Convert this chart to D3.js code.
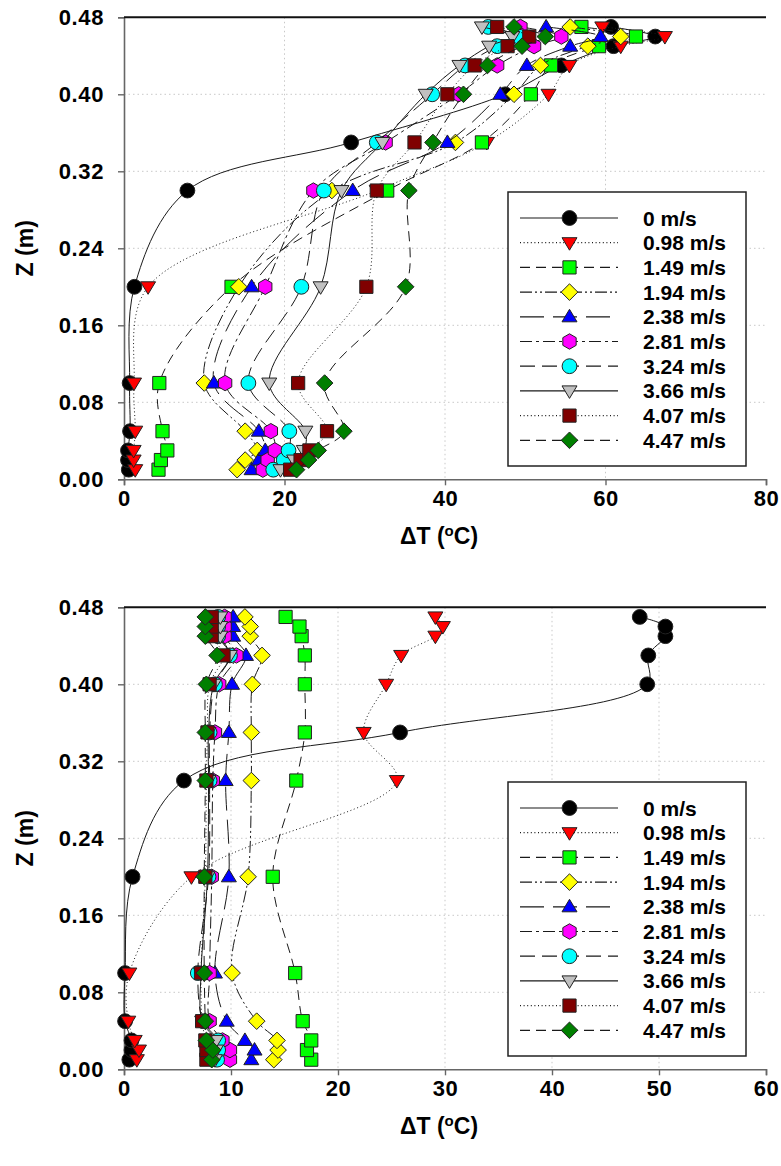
<!DOCTYPE html>
<html>
<head>
<meta charset="utf-8">
<script src="https://cdn.jsdelivr.net/npm/d3@7"></script>
<style>
  html, body { margin: 0; padding: 0; background: #fff; }
  svg { display: block; }
  text { font-family: "Liberation Sans", Arial, sans-serif; font-weight: bold; fill: #000; }
</style>
</head>
<body>
<svg id="chart" width="781" height="1166"></svg>
<script>
// ---------- DATA ----------
const zLevels = [0.01, 0.02, 0.03, 0.05, 0.10, 0.20, 0.30, 0.35, 0.40, 0.43, 0.45, 0.46, 0.47];
const seriesLabels = ["0 m/s", "0.98 m/s", "1.49 m/s", "1.94 m/s", "2.38 m/s", "2.81 m/s", "3.24 m/s", "3.66 m/s", "4.07 m/s", "4.47 m/s"];

// Top panel ΔT values (°C), one value per z level
const top_0    = [0.6, 0.5, 0.5, 0.75, 0.7, 1.3, 7.9, 28.3, 47.5, 54.5, 61.0, 66.2, 60.7];
const top_098  = [1.4, 1.2, 1.2, 1.4, 1.25, 3.0, 31.5, 45.2, 52.9, 55.5, 61.9, 67.4, 59.6];
const top_149  = [4.3, 4.6, 5.4, 4.8, 4.4, 13.4, 32.8, 44.6, 50.7, 53.2, 59.2, 63.8, 57.0];
const top_194  = [14.1, 15.1, 16.6, 15.1, 10.0, 14.3, 25.9, 41.3, 48.6, 51.9, 57.8, 61.9, 55.6];
const top_238  = [15.9, 16.8, 17.6, 16.8, 11.2, 15.9, 28.5, 40.3, 46.9, 50.2, 55.6, 59.4, 52.6];
const top_281  = [17.3, 17.9, 18.8, 18.3, 12.6, 17.6, 23.6, 32.6, 41.7, 46.5, 51.1, 54.5, 49.4];
const top_324  = [18.6, 19.9, 20.5, 20.6, 15.5, 22.1, 24.9, 31.5, 38.4, 42.5, 46.5, 49.2, 45.4];
const top_366  = [19.5, 21.2, 22.4, 22.6, 18.1, 24.5, 27.1, 32.2, 37.6, 41.8, 45.5, 48.4, 44.6];
const top_407  = [20.7, 22.0, 23.1, 25.3, 21.7, 30.2, 31.5, 36.2, 40.3, 43.7, 47.8, 50.5, 46.5];
const top_447  = [21.5, 23.0, 24.2, 27.4, 25.0, 35.1, 35.5, 38.5, 42.3, 45.3, 49.6, 52.5, 48.6];

// Bottom panel ΔT values (°C)
const bot_0    = [0.5, 0.7, 0.7, 0.1, 0.1, 0.8, 5.6, 25.8, 48.9, 49.0, 50.6, 50.6, 48.2];
const bot_098  = [1.2, 1.4, 1.0, 0.4, 0.5, 6.3, 25.5, 22.4, 24.5, 25.9, 29.1, 29.8, 29.1];
const bot_149  = [17.5, 17.1, 17.5, 16.7, 16.0, 13.9, 16.1, 16.9, 16.9, 16.9, 16.6, 16.4, 15.1];
const bot_194  = [14.0, 14.4, 14.3, 12.4, 10.1, 11.6, 11.9, 11.9, 12.0, 12.9, 11.8, 11.8, 11.3];
const bot_238  = [11.9, 12.2, 11.3, 9.6, 8.5, 9.8, 9.5, 9.8, 10.1, 11.4, 10.2, 10.2, 10.2];
const bot_281  = [9.9, 9.9, 9.2, 8.0, 8.0, 8.2, 8.3, 8.5, 8.9, 10.5, 9.4, 9.4, 9.4];
const bot_324  = [8.7, 8.8, 8.8, 7.4, 6.9, 7.9, 8.0, 8.0, 8.5, 9.9, 8.8, 8.8, 8.8];
const bot_366  = [8.5, 8.6, 8.6, 7.3, 7.2, 7.8, 7.9, 7.9, 8.4, 9.9, 9.0, 9.0, 9.0];
const bot_407  = [7.7, 7.7, 7.6, 7.3, 7.2, 7.6, 7.7, 7.8, 8.0, 9.3, 8.2, 8.2, 8.2];
const bot_447  = [8.2, 8.3, 7.7, 7.6, 7.5, 7.5, 7.6, 7.6, 7.7, 8.7, 7.6, 7.6, 7.6];

const topXTicks = [0, 20, 40, 60, 80];
const botXTicks = [0, 10, 20, 30, 40, 50, 60];
const yTicks = [0.00, 0.08, 0.16, 0.24, 0.32, 0.40, 0.48];

// ---------- STYLES ----------
const fills  = ["#000000", "#ff0000", "#00ff00", "#ffff00", "#0000ff", "#ff00ff", "#00ffff", "#c0c0c0", "#800000", "#007f00"];
const shapes = ["circle", "triDown", "square", "diamond", "triUp", "hexagon", "circle", "triDown", "square", "diamond"];
const dashes = [null, "1,2.6", "10,6", "12,3,2,3,2,3", "24,9", "12,4,3,4", "15,7", null, "1,2.6", "10,6"];

const svg = d3.select("#chart");
const FS_TICK = 22, FS_TITLE = 23, FS_LEG = 21;

function markerPath(shape) {
  const p = d3.path();
  if (shape === "triDown") {
    const w = 7.5, h = 12.5;
    p.moveTo(-w, -h * 0.4); p.lineTo(w, -h * 0.4); p.lineTo(0, h * 0.6); p.closePath();
  } else if (shape === "triUp") {
    const w = 7.5, h = 12.5;
    p.moveTo(-w, h * 0.4); p.lineTo(w, h * 0.4); p.lineTo(0, -h * 0.6); p.closePath();
  } else if (shape === "square") {
    const s = 6.6; p.rect(-s, -s, 2 * s, 2 * s);
  } else if (shape === "diamond") {
    const s = 8.3; p.moveTo(0, -s); p.lineTo(s, 0); p.lineTo(0, s); p.lineTo(-s, 0); p.closePath();
  } else if (shape === "hexagon") {
    const r = 7.7;
    for (let i = 0; i < 6; i++) {
      const a = Math.PI / 2 + i * Math.PI / 3;
      const px = r * Math.cos(a), py = r * Math.sin(a);
      if (i === 0) p.moveTo(px, py); else p.lineTo(px, py);
    }
    p.closePath();
  }
  return p.toString();
}

function drawMarker(g, shape, fill, cx, cy) {
  if (shape === "circle") {
    g.append("circle").attr("cx", cx).attr("cy", cy).attr("r", 7.4)
      .attr("fill", fill).attr("stroke", "#222").attr("stroke-width", 1);
  } else {
    g.append("path").attr("d", markerPath(shape)).attr("transform", `translate(${cx},${cy})`)
      .attr("fill", fill).attr("stroke", "#222").attr("stroke-width", 1);
  }
}

function drawPanel(cfg) {
  const { top, bottom, left, right, xMax, xTicks, data, legendTop } = cfg;
  const x = d3.scaleLinear().domain([0, xMax]).range([left, right]);
  const y = d3.scaleLinear().domain([0, 0.48]).range([bottom, top]);
  const g = svg.append("g");

  // grid
  g.selectAll(".vg").data(xTicks.filter(t => t > 0 && t < xMax)).join("line")
    .attr("x1", d => x(d)).attr("x2", d => x(d)).attr("y1", top).attr("y2", bottom)
    .attr("stroke", "#c8c8c8").attr("stroke-width", 1).attr("stroke-dasharray", "1.5,3");
  g.selectAll(".hg").data(yTicks.filter(t => t > 0 && t < 0.48)).join("line")
    .attr("x1", left).attr("x2", right).attr("y1", d => y(d)).attr("y2", d => y(d))
    .attr("stroke", "#c8c8c8").attr("stroke-width", 1).attr("stroke-dasharray", "1.5,3");

  // axes
  const xAxis = d3.axisBottom(x).tickValues(xTicks).tickFormat(d3.format("d")).tickSize(6).tickPadding(5);
  const yAxis = d3.axisLeft(y).tickValues(yTicks).tickFormat(d3.format(".2f")).tickSize(6).tickPadding(14);
  const gx = g.append("g").attr("transform", `translate(0,${bottom})`).call(xAxis);
  const gy = g.append("g").attr("transform", `translate(${left},0)`).call(yAxis);
  [gx, gy].forEach(a => {
    a.select(".domain").attr("stroke", "#666").attr("stroke-width", 1.6);
    a.selectAll(".tick line").attr("stroke", "#666").attr("stroke-width", 1.4);
    a.selectAll(".tick text").style("font-size", FS_TICK + "px").style("font-weight", "bold")
      .attr("fill", "#000").style("font-family", "'Liberation Sans', Arial, sans-serif")
      .style("letter-spacing", "0.6px");
  });
  // top frame line
  g.append("line").attr("x1", left).attr("x2", right).attr("y1", top).attr("y2", top)
    .attr("stroke", "#111").attr("stroke-width", 2);

  // series
  const line = d3.line().x(d => x(d.t)).y(d => y(d.z)).curve(d3.curveCatmullRom.alpha(0.5));
  data.forEach((vals, i) => {
    const pts = vals.map((t, k) => ({ t, z: zLevels[k] })).sort((a, b) => a.z - b.z);
    g.append("path").attr("d", line(pts)).attr("fill", "none")
      .attr("stroke", "#1a1a1a").attr("stroke-width", 1)
      .attr("stroke-dasharray", dashes[i]);
    const mg = g.append("g");
    pts.forEach(p => drawMarker(mg, shapes[i], fills[i], x(p.t), y(p.z)));
  });

  // axis titles
  g.append("text").attr("transform", `translate(${left - 99},${(top + bottom) / 2}) rotate(-90)`)
    .attr("text-anchor", "middle").attr("dominant-baseline", "central")
    .style("font-size", FS_TITLE + "px").text("Z (m)");
  const xt = g.append("text").attr("x", (left + right) / 2 - 6).attr("y", bottom + 65)
    .attr("text-anchor", "middle").style("font-size", FS_TITLE + "px");
  xt.append("tspan").text("\u0394T (");
  xt.append("tspan").attr("dy", -8).style("font-size", "15px").text("o");
  xt.append("tspan").attr("dy", 8).text("C)");

  // legend
  const lx0 = 508, lx1 = 746, ly0 = legendTop, ly1 = legendTop + 274;
  const lg = g.append("g");
  lg.append("rect").attr("x", lx0).attr("y", ly0).attr("width", lx1 - lx0).attr("height", ly1 - ly0)
    .attr("fill", "#fff").attr("stroke", "#222").attr("stroke-width", 1.5);
  seriesLabels.forEach((lab, i) => {
    const yy = ly0 + 26 + i * 24.7;
    lg.append("line").attr("x1", 520).attr("x2", 618).attr("y1", yy).attr("y2", yy)
      .attr("stroke", "#1a1a1a").attr("stroke-width", 1.2).attr("stroke-dasharray", dashes[i]);
    drawMarker(lg, shapes[i], fills[i], 569.5, yy);
    lg.append("text").attr("x", 643).attr("y", yy).attr("dominant-baseline", "central")
      .style("font-size", FS_LEG + "px").text(lab);
  });
}

drawPanel({
  top: 17.3, bottom: 479.3, left: 124, right: 766, xMax: 80, xTicks: topXTicks,
  data: [top_0, top_098, top_149, top_194, top_238, top_281, top_324, top_366, top_407, top_447],
  legendTop: 192
});
drawPanel({
  top: 607.3, bottom: 1069.3, left: 124, right: 766, xMax: 60, xTicks: botXTicks,
  data: [bot_0, bot_098, bot_149, bot_194, bot_238, bot_281, bot_324, bot_366, bot_407, bot_447],
  legendTop: 782
});
</script>
</body>
</html>
